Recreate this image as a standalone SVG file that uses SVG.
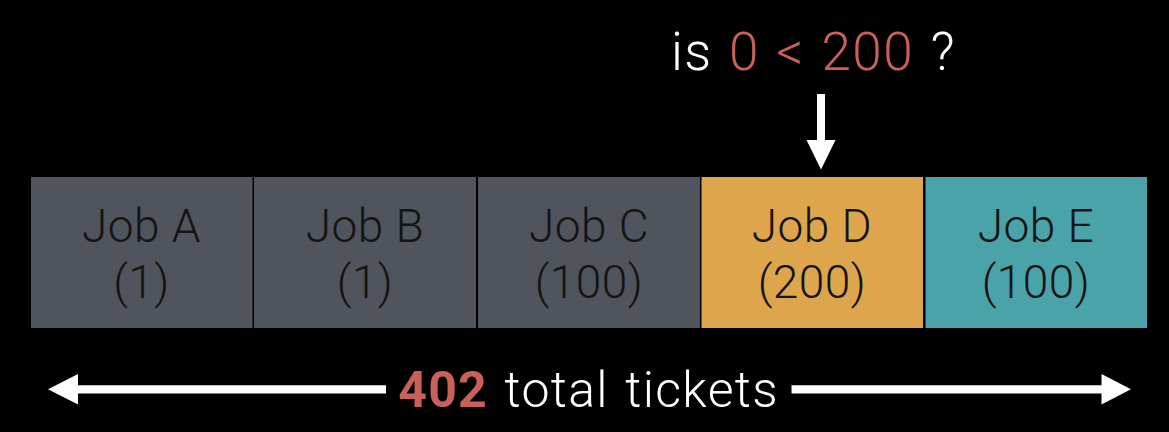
<svg xmlns="http://www.w3.org/2000/svg" width="1169" height="432" viewBox="0 0 1169 432">
<style>
.job{font-family:Roboto,"Liberation Sans",sans-serif;font-weight:300;font-size:46px;fill:#141414;text-anchor:middle;letter-spacing:0.5px}
.lbl{font-family:Roboto,"Liberation Sans",sans-serif;font-weight:300;fill:#ffffff;text-anchor:middle}
.red{fill:#c9605a}
.arr{fill:#ffffff}
</style>
<rect x="0" y="0" width="1169" height="432" fill="#000000"/>
<g id="jobA"><rect x="31" y="177" width="221.5" height="151" fill="#50545c"/><text class="job" x="141.5" y="242">Job A</text><text class="job" x="141.5" y="298">(1)</text></g>
<g id="jobB"><rect x="254" y="177" width="222" height="151" fill="#50545c"/><text class="job" x="365" y="242">Job B</text><text class="job" x="365" y="298">(1)</text></g>
<g id="jobC"><rect x="478" y="177" width="222" height="151" fill="#50545c"/><text class="job" x="589" y="242">Job C</text><text class="job" x="589" y="298">(100)</text></g>
<g id="jobD"><rect x="701.5" y="177" width="221.5" height="151" fill="#dea64c"/><text class="job" x="812" y="242">Job D</text><text class="job" x="812" y="298">(200)</text></g>
<g id="jobE"><rect x="925.5" y="177" width="221.5" height="151" fill="#4aa3a8"/><text class="job" x="1036" y="242">Job E</text><text class="job" x="1036" y="298">(100)</text></g>
<g id="question"><text class="lbl" x="813.5" y="70" font-size="53" letter-spacing="1.5" word-spacing="2">is <tspan class="red">0 &lt; 200</tspan> ?</text></g>
<g id="total"><text class="lbl" x="588.5" y="407" font-size="50" letter-spacing="1.3" word-spacing="3"><tspan class="red" font-weight="700">402</tspan> total tickets</text></g>
<g id="connectors">
<path class="arr" d="M817 94H825V140H835.5L821 169.5L806.5 140H817Z"/>
<path class="arr" d="M48 389.3L78 374V385.2H386V393.4H78V404.6Z"/>
<path class="arr" d="M1131 389.3L1101.5 374V385.2H791.5V393.4H1101.5V404.6Z"/>
</g>
</svg>
